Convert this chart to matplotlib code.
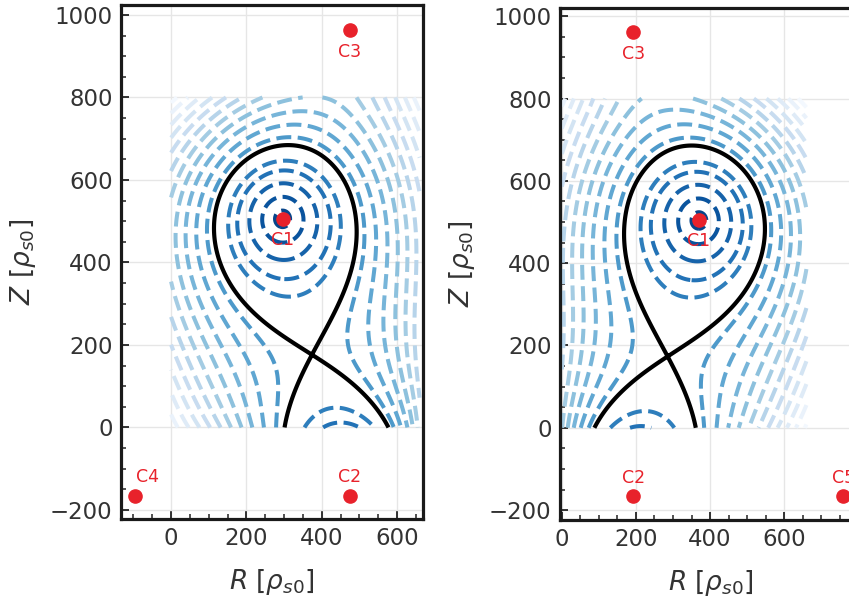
# two magnetic equilibria: flux surfaces, separatrix and coils

import numpy as np
import matplotlib.pyplot as plt
from matplotlib.ticker import MultipleLocator

# ---- data (units of rho_s0) ----
# left panel: coils
names_a = ["C1", "C2", "C3", "C4"]
coil_r_a = [296, 475, 475, -96]
coil_z_a = [506, -165, 964, -165]
# x-point and points on the separatrix
xpt_a = (377, 175)
sep_r_a = [316, 96, 486, 165, 431, 298, 586, 148, 430]
sep_z_a = [686, 485, 470, 308, 308, 0, 0, 599, 616]
# points on the dashed flux surfaces, with the ring number counted out from C1
lev_r_a = [351, 387, 422, 449, 508, 542, 575, 610, 643,
           245, 212, 175, 143, 68, 33,
           296, 296, 296, 296, 296, 296, 296, 296,
           282, 242, 205, 165, 130, 90, 50,
           480, 524, 559, 599, 639,
           475, 515, 546, 577, 612, 643,
           475, 475, 475]
lev_z_a = [506, 506, 506, 506, 506, 506, 506, 506, 506,
           506, 506, 506, 506, 506, 506,
           542, 583, 615, 643, 707, 740, 773, 801,
           0, 0, 0, 0, 0, 0, 0,
           308, 308, 308, 308, 308,
           790, 790, 790, 790, 790, 790,
           106, 70, 37]
lev_k_a = [0, 1, 2, 3, 5, 6, 7, 8, 9,
           0, 1, 2, 3, 5, 6,
           0, 1, 2, 3, 5, 6, 7, 8,
           5, 6, 7, 8, 9, 10, 11,
           5, 6, 7, 8, 9,
           5, 6, 7, 8, 9, 10,
           3, 2, 1]

# right panel
names_b = ["C1", "C2", "C3", "C5"]
coil_r_b = [370, 193, 193, 760]
coil_z_b = [504, -165, 962, -165]
xpt_b = (285, 172)
sep_r_b = [333, 175, 564, 219, 490, 74, 360, 220, 508]
sep_z_b = [685, 473, 480, 308, 308, 0, 0, 618, 602]
lev_r_b = [315, 279, 244, 217, 153, 119, 86, 51, 18,
           421, 454, 491, 523, 598, 633,
           370, 370, 370, 370, 370, 370, 370, 370,
           379, 419, 456, 496, 531, 571, 611,
           181, 137, 102, 62, 22,
           186, 146, 115, 84, 49, 18,
           193, 193, 193]
lev_z_b = [504, 504, 504, 504, 504, 504, 504, 504, 504,
           504, 504, 504, 504, 504, 504,
           540, 581, 613, 641, 705, 738, 771, 799,
           0, 0, 0, 0, 0, 0, 0,
           308, 308, 308, 308, 308,
           790, 790, 790, 790, 790, 790,
           106, 70, 37]
lev_k_b = lev_k_a

# ring radii around C1 (ring 4 is the separatrix), and the tiny inner ring
ring_rho = [55, 91, 126, 153, 188, 219, 254, 290, 325, 360]
inner_rho = 20
ring_step = 35   # spacing of the rings further out

# box where the flux surfaces are drawn
box_r = (0, 660)
box_z = (0, 800)

red = "#e8222b"
txt = "#333333"


def rho_of(k):
    k = np.asarray(k)
    base = np.array(ring_rho, float)
    out = base[np.minimum(k, len(base) - 1)]
    return out + ring_step * np.maximum(k - len(base) + 1, 0)


def basis(c, p):
    # ln r to every coil and harmonic far-field terms around C1
    p = np.atleast_2d(np.asarray(p, float))
    d = p[:, None, :] - c[None, :, :]
    with np.errstate(divide="ignore"):
        lnr = 0.5 * np.log((d**2).sum(-1))
    u = (p[:, 0] - c[0, 0]) / 100
    w = (p[:, 1] - c[0, 1]) / 100
    ext = np.column_stack([u, w, u * u - w * w, u * w])
    return lnr[:, 0], np.hstack([lnr[:, 1:], -ext])


def dbasis(c, p, h=0.5):
    ax_, bx_ = basis(c, p + [h, 0])
    am_, bm_ = basis(c, p - [h, 0])
    az_, bz_ = basis(c, p + [0, h])
    an_, bn_ = basis(c, p - [0, h])
    return ((ax_ - am_) / (2 * h), (bx_ - bm_) / (2 * h),
            (az_ - an_) / (2 * h), (bz_ - bn_) / (2 * h))


def fit_field(cr, cz, xpt, sr, sz, lr, lz, lk):
    c = np.column_stack([cr, cz]).astype(float)
    X = np.array(xpt, float)
    # linear part: separatrix, x-point, ring positions
    a0, B = basis(c, np.column_stack([sr, sz]))
    x0, BX = basis(c, X)
    rows = [4 * (B - BX)]
    rhs = [-4 * (a0 - x0)]
    gax, gBx, gaz, gBz = dbasis(c, X[None])
    rows += [1500 * gBx, 1500 * gBz]
    rhs += [-1500 * gax, -1500 * gaz]
    _, B1 = basis(c, c[0])
    al, Bl = basis(c, np.column_stack([lr, lz]))
    rows.append(Bl - B1)
    rhs.append(np.log(rho_of(lk)) - al)
    n = B.shape[1]
    rows.append(0.02 * np.eye(n))
    rhs.append(np.zeros(n))
    A = np.vstack(rows)
    b = np.concatenate(rhs)
    v = np.linalg.lstsq(A, b, rcond=None)[0]

    # rings are evenly spaced over the whole box (away from the x-point)
    gr, gz = np.meshgrid(np.arange(10, 661, 40), np.arange(10, 801, 40))
    Q = np.column_stack([gr.ravel(), gz.ravel()]).astype(float)
    keep = (np.hypot(*(Q - X).T) > 130) & (np.hypot(*(Q - c[0]).T) > 25)
    Q = Q[keep]
    aq, Bq = basis(c, Q)
    Bq = Bq - B1
    qax, qBx, qaz, qBz = dbasis(c, Q)
    ws = 0.2

    def resid(v):
        lnf = aq + Bq @ v
        gx = qax + qBx @ v
        gy = qaz + qBz @ v
        g2 = gx**2 + gy**2 + 1e-9
        rs = ws * (lnf + 0.5 * np.log(g2))
        Js = ws * (Bq + (gx[:, None] * qBx + gy[:, None] * qBz) / g2[:, None])
        return np.concatenate([A @ v - b, rs]), np.vstack([A, Js])

    mu = 0.1
    r, J = resid(v)
    cost = (r**2).sum()
    for _ in range(60):
        M = np.vstack([J, np.sqrt(mu) * np.eye(n)])
        dv = np.linalg.lstsq(M, np.concatenate([-r, np.zeros(n)]), rcond=None)[0]
        r2, J2 = resid(v + dv)
        c2 = (r2**2).sum()
        if c2 < cost:
            v, r, J, cost = v + dv, r2, J2, c2
            mu *= 0.5
        else:
            mu *= 4
    return c, v, B1[0] @ v


def lnF(c, v, lns, p):
    a, B = basis(c, p)
    return a + B @ v - lns


def saddle(c, v, lns, x0):
    p = np.array(x0, float)
    h = 0.5

    def grad(q):
        gx = (lnF(c, v, lns, q + [h, 0]) - lnF(c, v, lns, q - [h, 0])) / (2 * h)
        gz = (lnF(c, v, lns, q + [0, h]) - lnF(c, v, lns, q - [0, h])) / (2 * h)
        return np.array([gx[0], gz[0]])

    for _ in range(30):
        g = grad(p)
        H = np.column_stack([(grad(p + [h, 0]) - grad(p - [h, 0])) / (2 * h),
                             (grad(p + [0, h]) - grad(p - [0, h])) / (2 * h)])
        step = np.linalg.solve(H, g)
        if np.hypot(*step) > 40:
            step *= 40 / np.hypot(*step)
        p = p - step
    return p


def panel(ax, names, cr, cz, xpt, sr, sz, lr, lz, lk, offs):
    c, v, lns = fit_field(cr, cz, xpt, sr, sz, lr, lz, lk)
    R, Z = np.meshgrid(np.linspace(*box_r, 460), np.linspace(*box_z, 560))
    F = np.exp(lnF(c, v, lns, np.column_stack([R.ravel(), Z.ravel()]))).reshape(R.shape)

    outer = list(np.arange(ring_rho[-1] + ring_step, 720, ring_step))
    levels = [inner_rho] + ring_rho[:4] + ring_rho[5:] + outer
    cvals = [max(0.92 - 0.058 * (lv - inner_rho) / ring_step, 0.02) for lv in levels]
    ax.contour(R, Z, F, levels=levels, colors=plt.cm.Blues(cvals),
               linestyles="--", linewidths=2.9, zorder=2)

    xp = saddle(c, v, lns, xpt)
    fx = np.exp(lnF(c, v, lns, xp))[0]
    ax.contour(R, Z, F, levels=[fx], colors="k", linewidths=3, zorder=3)

    for n, r, z in zip(names, cr, cz):
        ax.plot(r, z, "o", color=red, ms=9.5, zorder=5, clip_on=False)
        ax.annotate(n, (r, z), xytext=offs[n], textcoords="offset points",
                    ha="center", va="center", color=red, fontsize=12.5, zorder=5)

    ax.set_xticks([0, 200, 400, 600])
    ax.yaxis.set_major_locator(MultipleLocator(200))
    ax.xaxis.set_minor_locator(MultipleLocator(50))
    ax.yaxis.set_minor_locator(MultipleLocator(50))
    ax.grid(True, which="major", color="#e6e6e6", lw=1, zorder=0)
    ax.set_axisbelow(True)
    ax.tick_params(which="both", direction="in", top=False, right=False,
                   labelsize=16.5, labelcolor=txt, color="#222222")
    ax.tick_params(which="major", length=6, width=1.3, pad=6)
    ax.tick_params(which="minor", length=3.5, width=1.1)
    for s in ax.spines.values():
        s.set_linewidth(2.3)
        s.set_color("#1a1a1a")
    ax.set_xlabel(r"$R$ [$\rho_{s0}$]", fontsize=19, color=txt, labelpad=12)
    ax.set_ylabel(r"$Z$ [$\rho_{s0}$]", fontsize=19, color=txt, labelpad=9)


fig = plt.figure(figsize=(8.49, 6.01), dpi=100)
ax1 = fig.add_axes([0.1425, 0.1364, 0.3557, 0.8552])
ax2 = fig.add_axes([0.6596, 0.1348, 0.3557, 0.8519])

offs_a = {"C1": (0, -15), "C2": (0, 13), "C3": (0, -16), "C4": (9, 13)}
offs_b = {"C1": (0, -15), "C2": (0, 13), "C3": (0, -16), "C5": (0, 13)}

panel(ax1, names_a, coil_r_a, coil_z_a, xpt_a, sep_r_a, sep_z_a,
      lev_r_a, lev_z_a, lev_k_a, offs_a)
panel(ax2, names_b, coil_r_b, coil_z_b, xpt_b, sep_r_b, sep_z_b,
      lev_r_b, lev_z_b, lev_k_b, offs_b)
ax1.set_xlim(-133, 669)
ax1.set_ylim(-222, 1024)
ax2.set_xlim(-5, 810)
ax2.set_ylim(-224, 1020)

fig.savefig("out.png", dpi=100)
